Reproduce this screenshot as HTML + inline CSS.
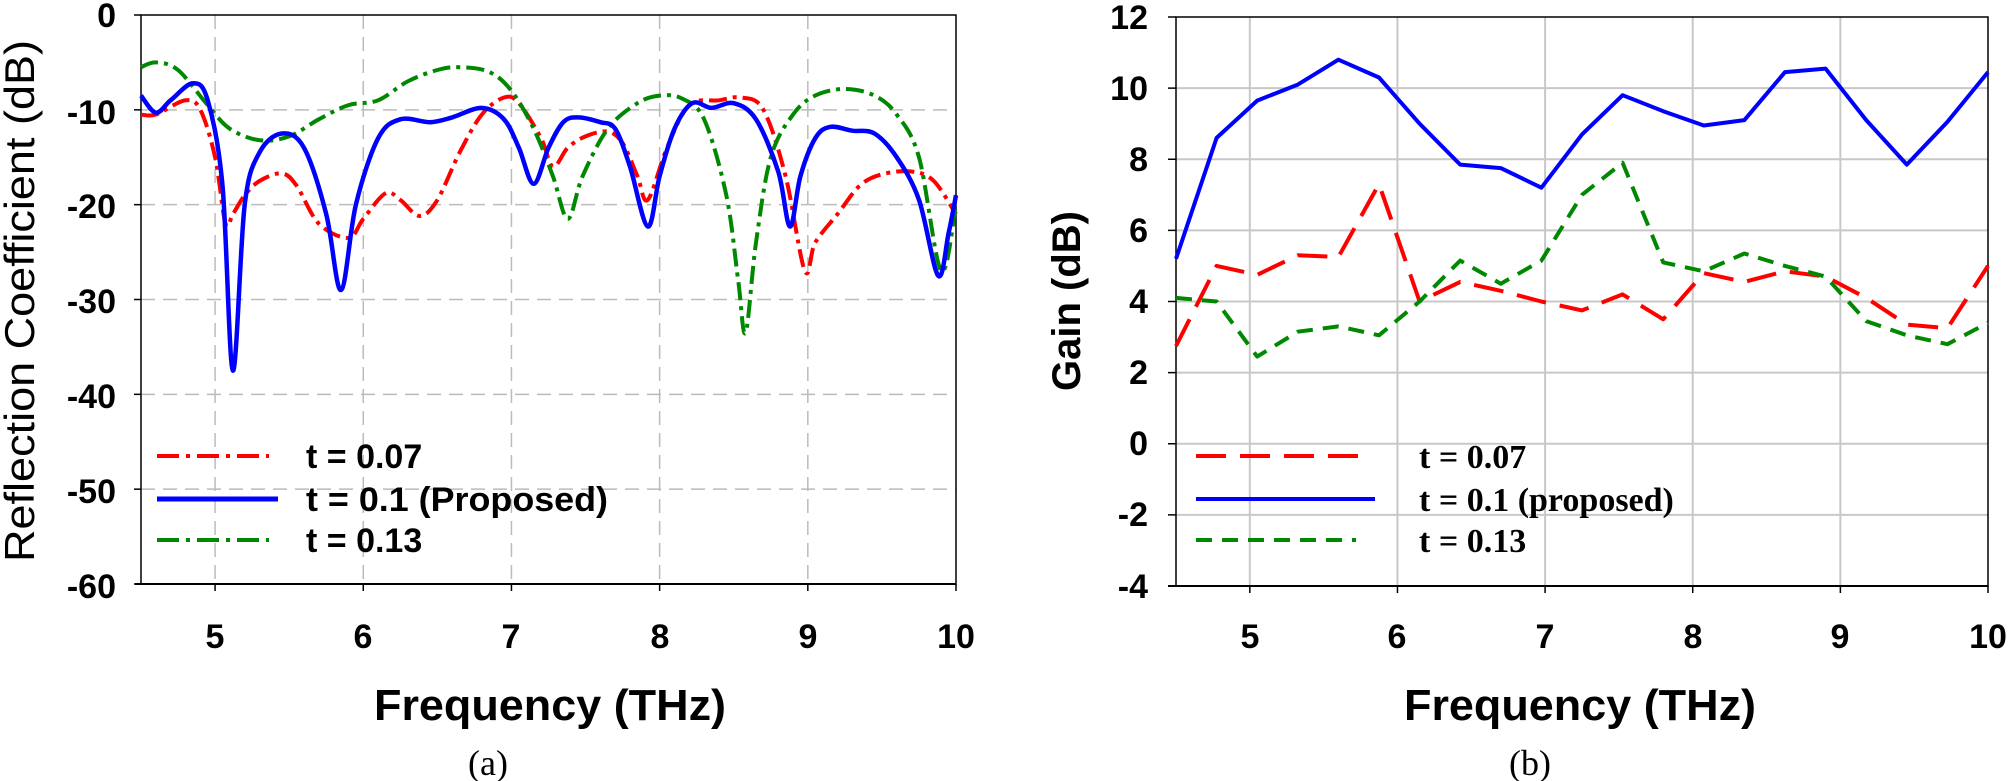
<!DOCTYPE html>
<html><head><meta charset="utf-8"><style>
html,body{margin:0;padding:0;background:#fff;}
svg{display:block;}
text{font-family:"Liberation Sans",sans-serif;}
text.serif{font-family:"Liberation Serif",serif;}
</style></head><body>
<svg id="s" width="2008" height="781" viewBox="0 0 2008 781" xmlns="http://www.w3.org/2000/svg">
<g id="L"></g><g id="R"></g>
<g font-weight="bold" font-size="34" text-anchor="end">
<text x="116" y="27">0</text><text x="116" y="124">-10</text><text x="116" y="218">-20</text>
<text x="116" y="313">-30</text><text x="116" y="408">-40</text><text x="116" y="503">-50</text><text x="116" y="598">-60</text>
</g>
<g font-weight="bold" font-size="34" text-anchor="middle">
<text x="215" y="648">5</text><text x="363" y="648">6</text><text x="511" y="648">7</text>
<text x="660" y="648">8</text><text x="808" y="648">9</text><text x="956" y="648">10</text>
</g>
<text x="550" y="720" font-weight="bold" font-size="44" text-anchor="middle" textLength="352" lengthAdjust="spacingAndGlyphs">Frequency (THz)</text>
<text class="serif" x="488" y="775" font-size="36" text-anchor="middle">(a)</text>
<text transform="translate(34,301) rotate(-90)" font-size="42" text-anchor="middle" textLength="522" lengthAdjust="spacingAndGlyphs">Reflection Coefficient (dB)</text>
<g font-weight="bold" font-size="34">
<text x="306" y="468">t = 0.07</text>
<text x="306" y="511" textLength="302" lengthAdjust="spacingAndGlyphs">t = 0.1 (Proposed)</text>
<text x="306" y="552">t = 0.13</text>
</g>
<line x1="157" y1="456" x2="269" y2="456" stroke="#f00" stroke-width="4" stroke-dasharray="22 7 4 7"/>
<line x1="157" y1="499" x2="278" y2="499" stroke="#00f" stroke-width="5"/>
<line x1="157" y1="540" x2="269" y2="540" stroke="#080" stroke-width="4" stroke-dasharray="22 7 4 7"/>
<g font-weight="bold" font-size="34" text-anchor="end">
<text x="1148" y="29">12</text><text x="1148" y="100">10</text><text x="1148" y="171">8</text>
<text x="1148" y="242">6</text><text x="1148" y="313">4</text><text x="1148" y="384">2</text>
<text x="1148" y="455">0</text><text x="1148" y="526">-2</text><text x="1148" y="598">-4</text>
</g>
<g font-weight="bold" font-size="34" text-anchor="middle">
<text x="1250" y="648">5</text><text x="1397" y="648">6</text><text x="1545" y="648">7</text>
<text x="1693" y="648">8</text><text x="1840" y="648">9</text><text x="1988" y="648">10</text>
</g>
<text x="1580" y="720" font-weight="bold" font-size="44" text-anchor="middle" textLength="352" lengthAdjust="spacingAndGlyphs">Frequency (THz)</text>
<text class="serif" x="1530" y="775" font-size="36" text-anchor="middle">(b)</text>
<text transform="translate(1080,301) rotate(-90)" font-weight="bold" font-size="40" text-anchor="middle">Gain (dB)</text>
<g font-weight="bold" font-size="34">
<text class="serif" x="1419" y="468">t = 0.07</text>
<text class="serif" x="1419" y="511">t = 0.1 (proposed)</text>
<text class="serif" x="1419" y="552">t = 0.13</text>
</g>
<line x1="1196" y1="456" x2="1362" y2="456" stroke="#f00" stroke-width="4" stroke-dasharray="30 14"/>
<line x1="1196" y1="499" x2="1375" y2="499" stroke="#00f" stroke-width="4"/>
<line x1="1196" y1="540" x2="1356" y2="540" stroke="#080" stroke-width="4" stroke-dasharray="16 10"/>
</svg>
<script>
var NS="http://www.w3.org/2000/svg";
function el(p,t,a){var e=document.createElementNS(NS,t);for(var k in a)e.setAttribute(k,a[k]);p.appendChild(e);return e;}
var L=document.getElementById('L');
function lx(f){return 141+(f-4.5)*(815/5.5);} function ly(v){return 15-v*(569/60);}
for(var f=5;f<=9;f++)el(L,'line',{x1:lx(f),y1:15,x2:lx(f),y2:584,stroke:'#bbb','stroke-width':1.5,'stroke-dasharray':'14 8'});
for(var v=-10;v>=-50;v-=10)el(L,'line',{x1:141,y1:ly(v),x2:956,y2:ly(v),stroke:'#bbb','stroke-width':1.5,'stroke-dasharray':'14 8'});
el(L,'rect',{x:141,y:15,width:815,height:569,fill:'none',stroke:'#000','stroke-width':1.5});
el(L,'line',{x1:135,y1:584,x2:956,y2:584,stroke:'#000','stroke-width':2});
for(var f=5;f<=10;f++)el(L,'line',{x1:lx(f),y1:584,x2:lx(f),y2:591,stroke:'#000','stroke-width':1.5});
for(var v=0;v>=-60;v-=10)el(L,'line',{x1:134,y1:ly(v),x2:141,y2:ly(v),stroke:'#000','stroke-width':1.5});
function poly(p,d,fx,fy,attrs){var s='';for(var i=0;i<d.length;i+=2)s+=fx(d[i]).toFixed(1)+','+fy(d[i+1]).toFixed(1)+' ';attrs.points=s;attrs.fill='none';attrs['stroke-linejoin']='round';el(p,'polyline',attrs);}
function smooth(p,d,fx,fy,attrs){var P=[];for(var i=0;i<d.length;i+=2)P.push([fx(d[i]),fy(d[i+1])]);
var s='M'+P[0][0].toFixed(1)+','+P[0][1].toFixed(1);
for(var i=0;i<P.length-1;i++){var p0=P[i>0?i-1:i],p1=P[i],p2=P[i+1],p3=P[i+2<P.length?i+2:i+1];var t=1/6;
s+=' C'+(p1[0]+(p2[0]-p0[0])*t).toFixed(1)+','+(p1[1]+(p2[1]-p0[1])*t).toFixed(1)+' '+(p2[0]-(p3[0]-p1[0])*t).toFixed(1)+','+(p2[1]-(p3[1]-p1[1])*t).toFixed(1)+' '+p2[0].toFixed(1)+','+p2[1].toFixed(1);}
attrs.d=s;attrs.fill='none';el(p,'path',attrs);}
var red=[4.5,-10.5,4.6,-10.5,4.8,-9,4.9,-10,5.0,-15,5.07,-22,5.12,-21,5.2,-19,5.3,-17.5,5.45,-16.7,5.55,-18,5.7,-22,5.9,-23.5,6.0,-21.5,6.15,-18.8,6.25,-19.5,6.38,-21.2,6.5,-19.5,6.65,-14.5,6.8,-10.5,6.95,-8.7,7.05,-9.3,7.2,-13,7.28,-16,7.38,-14,7.5,-12.8,7.65,-12.3,7.75,-13.5,7.85,-17,7.92,-19.5,8.05,-14,8.2,-9.5,8.4,-9,8.55,-8.7,8.7,-10,8.85,-17,8.98,-27,9.05,-24,9.2,-21,9.35,-18,9.5,-16.8,9.7,-16.5,9.85,-17.5,10,-21];
var grn=[4.5,-5.5,4.6,-5,4.75,-5.8,4.95,-9.5,5.1,-12,5.3,-13.2,5.5,-12.8,5.7,-11,5.9,-9.5,6.1,-9,6.3,-7,6.5,-5.8,6.65,-5.5,6.85,-6,7.0,-8,7.15,-12,7.28,-17,7.38,-21.5,7.48,-17,7.65,-12,7.85,-9.3,8.0,-8.5,8.15,-8.8,8.3,-11,8.45,-19,8.53,-28,8.58,-33.5,8.65,-24,8.75,-15,8.9,-10.5,9.05,-8.5,9.25,-7.8,9.45,-8.5,9.6,-10.5,9.75,-15,9.9,-27,10,-20];
var blu=[4.5,-8.5,4.6,-10.3,4.7,-9,4.85,-7.2,4.95,-9,5.05,-18,5.12,-37.5,5.2,-20,5.3,-14.5,5.45,-12.5,5.6,-14,5.75,-21,5.85,-29,5.95,-20,6.1,-13,6.25,-11,6.45,-11.3,6.6,-10.8,6.8,-9.8,6.95,-11,7.05,-14,7.15,-17.8,7.25,-14,7.35,-11.3,7.45,-10.8,7.6,-11.3,7.7,-12,7.8,-16,7.92,-22.3,8.0,-17,8.1,-12,8.22,-9.3,8.35,-9.8,8.5,-9.3,8.65,-11,8.8,-16.5,8.88,-22.3,8.95,-17,9.05,-13,9.15,-11.8,9.3,-12.2,9.45,-12.5,9.6,-15,9.75,-19.5,9.88,-27.5,9.95,-23,10,-19];
smooth(L,red,lx,ly,{stroke:'#f00','stroke-width':4,'stroke-dasharray':'18 6 4 6'});
smooth(L,grn,lx,ly,{stroke:'#080','stroke-width':4,'stroke-dasharray':'18 6 4 6'});
smooth(L,blu,lx,ly,{stroke:'#00f','stroke-width':4.5});
var R=document.getElementById('R');
function rx(f){return 1176+(f-4.5)*(812/5.5);} function ry(v){return 17+(12-v)*(569/16);}
for(var f=5;f<=9;f++)el(R,'line',{x1:rx(f),y1:17,x2:rx(f),y2:586,stroke:'#c8c8c8','stroke-width':2});
for(var v=10;v>=-2;v-=2)el(R,'line',{x1:1176,y1:ry(v),x2:1988,y2:ry(v),stroke:'#c8c8c8','stroke-width':2});
el(R,'rect',{x:1176,y:17,width:812,height:569,fill:'none',stroke:'#000','stroke-width':1.5});
el(R,'line',{x1:1168,y1:586,x2:1988,y2:586,stroke:'#000','stroke-width':2});
for(var f=5;f<=10;f++)el(R,'line',{x1:rx(f),y1:586,x2:rx(f),y2:593,stroke:'#000','stroke-width':1.5});
for(var v=12;v>=-4;v-=2)el(R,'line',{x1:1168,y1:ry(v),x2:1176,y2:ry(v),stroke:'#000','stroke-width':1.5});
function mk(a){var d=[];for(var i=0;i<a.length;i++){d.push(4.5+i*0.275,a[i]);}return d;}
var gB=[5.2,8.6,9.65,10.1,10.8,10.3,9.0,7.85,7.75,7.2,8.7,9.8,9.35,8.95,9.1,10.45,10.55,9.1,7.85,9.05,10.45];
var gR=[2.75,5.0,4.75,5.3,5.25,7.3,4.0,4.55,4.3,4.0,3.75,4.2,3.5,4.8,4.55,4.85,4.7,4.1,3.35,3.25,5.0];
var gG=[4.1,4.0,2.45,3.15,3.3,3.05,4.0,5.15,4.5,5.15,7.0,7.9,5.1,4.85,5.35,5.0,4.7,3.45,3.05,2.8,3.4];
poly(R,mk(gB),rx,ry,{stroke:'#00f','stroke-width':4});
poly(R,mk(gR),rx,ry,{stroke:'#f00','stroke-width':4,'stroke-dasharray':'30 14'});
poly(R,mk(gG),rx,ry,{stroke:'#080','stroke-width':4,'stroke-dasharray':'16 10'});
</script>
</body></html>
